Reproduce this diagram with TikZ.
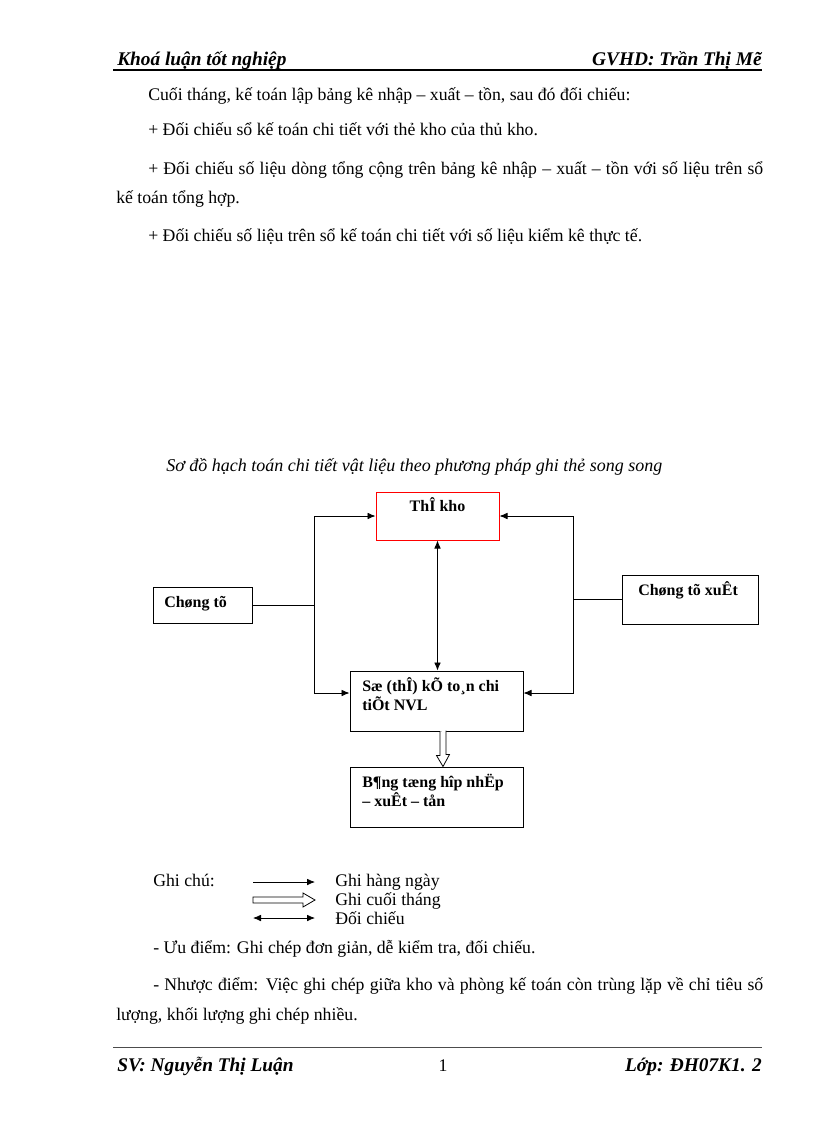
\documentclass[tikz,border=0pt]{standalone}
\usepackage{fontspec}
\setmainfont{Liberation Serif}
\usetikzlibrary{arrows.meta,calc}
\begin{document}
\begin{tikzpicture}[x=0.75pt,y=-0.75pt,
  txt/.style={anchor=base west,inner sep=0pt,font=\fontsize{13.3}{15}\selectfont},
  txtc/.style={anchor=base,inner sep=0pt,font=\fontsize{13.3}{15}\selectfont},
  hdr/.style={inner sep=0pt,font=\bfseries\itshape\fontsize{14.5}{16}\selectfont},
  bx/.style={draw,line width=0.75pt,inner sep=0pt},
  bxt/.style={anchor=base west,inner sep=0pt,font=\bfseries\fontsize{12}{14}\selectfont},
  arr/.style={-{Latex[length=6pt,width=5pt]},line width=0.6pt},
  darr/.style={{Latex[length=6pt,width=5pt]}-{Latex[length=6pt,width=5pt]},line width=0.6pt},
  ln/.style={line width=0.6pt},
  hol/.style={line width=0.6pt,fill=white}]
\useasboundingbox[fill=white] (0,0) rectangle (816,1123);
% header
\node[hdr,anchor=base west] (h1) at (117,66) {Khoá luận tốt nghiệp};
\node[hdr,anchor=base east] (h2) at (762,66) {GVHD: Trần Thị Mẽ};
\coordinate (hl1) at (113,70); \coordinate (hl2) at (762,70);
\draw[line width=1.4pt] (hl1) -- (hl2);
% body text
\node[txt] (p1) at (148,101) {Cuối tháng, kế toán lập bảng kê nhập – xuất – tồn, sau đó đối chiếu:};
\node[txt] (p2) at (148,136) {+ Đối chiếu sổ kế toán chi tiết với thẻ kho của thủ kho.};
\node[txt] (p3) at (148,175) {\makebox[461.25pt][s]{+ Đối chiếu số liệu dòng tổng cộng trên bảng kê nhập – xuất – tồn với số liệu trên sổ}};
\node[txt] (p4) at (116,204) {kế toán tổng hợp.};
\node[txt] (p5) at (148,242) {+ Đối chiếu số liệu trên sổ kế toán chi tiết với số liệu kiểm kê thực tế.};
% caption
\node[txt,font=\itshape\fontsize{13.5}{15}\selectfont] (cap) at (166,471) {Sơ đồ hạch toán chi tiết vật liệu theo phương pháp ghi thẻ song song};
% boxes
\node[bx,draw=red,minimum width=92.25pt,minimum height=36pt] (tk) at (437.5,516) {};
\node[bx,minimum width=74.25pt,minimum height=27pt] (ct) at (202.5,605) {};
\node[bx,minimum width=102pt,minimum height=36.75pt] (cx) at (690,599.5) {};
\node[bx,minimum width=129.75pt,minimum height=45pt] (sk) at (436.5,701) {};
\node[bx,minimum width=129.75pt,minimum height=45pt] (bg) at (436.5,797) {};
\node[bxt,anchor=base] (tkt) at (437.5,511) {ThÎ kho};
\node[bxt] (ctt) at (164,607) {Chøng tõ};
\node[bxt] (cxt) at (638,595) {Chøng tõ xuÊt};
\node[bxt] (skt1) at (362,691) {Sæ (thÎ) kÕ to¸n chi};
\node[bxt] (skt2) at (362,710) {tiÕt NVL};
\node[bxt] (bgt1) at (362,787) {B¶ng tæng hîp nhËp};
\node[bxt] (bgt2) at (362,806) {– xuÊt – tån};
% connectors
\coordinate (lt) at (314,516); \coordinate (lb) at (314,693);
\coordinate (rt) at (573,516); \coordinate (rb) at (573,693);
\draw[ln] (ct.east) -- (ct.east -| lt);
\draw[arr] (lb) -- (lt) -- (tk.west |- lt);
\draw[arr] (lt) -- (lb) -- (sk.west |- lb);
\draw[ln] (cx.west) -- (cx.west -| rt);
\draw[arr] (rb) -- (rt) -- (tk.east |- rt);
\draw[arr] (rt) -- (rb) -- (sk.east |- rb);
\draw[darr] (tk.south) -- (tk.south |- sk.north);
\draw[hol] ($(sk.south)+(3.5,0)$) -- ++(0,24) -- ++(-3.5,0) -- ($(bg.north)+(6.5,0)$) -- ++(6.5,-12) -- ++(-3.5,0) -- ++(0,-24);
% legend
\node[txt] (gc) at (153,886) {Ghi chú:};
\coordinate (a1s) at (253,882); \coordinate (a1e) at (315,882);
\coordinate (a2s) at (253,900);
\coordinate (a3s) at (253,918); \coordinate (a3e) at (315,918);
\draw[arr] (a1s) -- (a1e);
\draw[hol] ($(a2s)+(0,-3)$) -- ++(50,0) -- ++(0,-4) -- ++(12,7) -- ++(-12,7) -- ++(0,-4) -- ++(-50,0) -- cycle;
\draw[darr] (a3s) -- (a3e);
\node[txt] (l1) at (335,886) {Ghi hàng ngày};
\node[txt] (l2) at (335,905) {Ghi cuối tháng};
\node[txt] (l3) at (335,924) {Đối chiếu};
\node[txt] (q1) at (153,953) {- Ưu điểm: Ghi chép đơn giản, dễ kiểm tra, đối chiếu.};
\node[txt] (q2) at (153,990) {\makebox[457.5pt][s]{- Nhược điểm: Việc ghi chép giữa kho và phòng kế toán còn trùng lặp về chỉ tiêu số}};
\node[txt] (q3) at (116,1020) {lượng, khối lượng ghi chép nhiều.};
% footer
\coordinate (fl1) at (113,1047); \coordinate (fl2) at (762,1047);
\draw[line width=0.6pt,black!70] (fl1) -- (fl2);
\node[hdr,anchor=base west] (f1) at (117,1071) {SV: Nguyễn Thị Luận};
\node[txtc] (f2) at (443,1071) {1};
\node[hdr,anchor=base east] (f3) at (762,1071) {Lớp: ĐH07K1. 2};
\end{tikzpicture}
\end{document}
